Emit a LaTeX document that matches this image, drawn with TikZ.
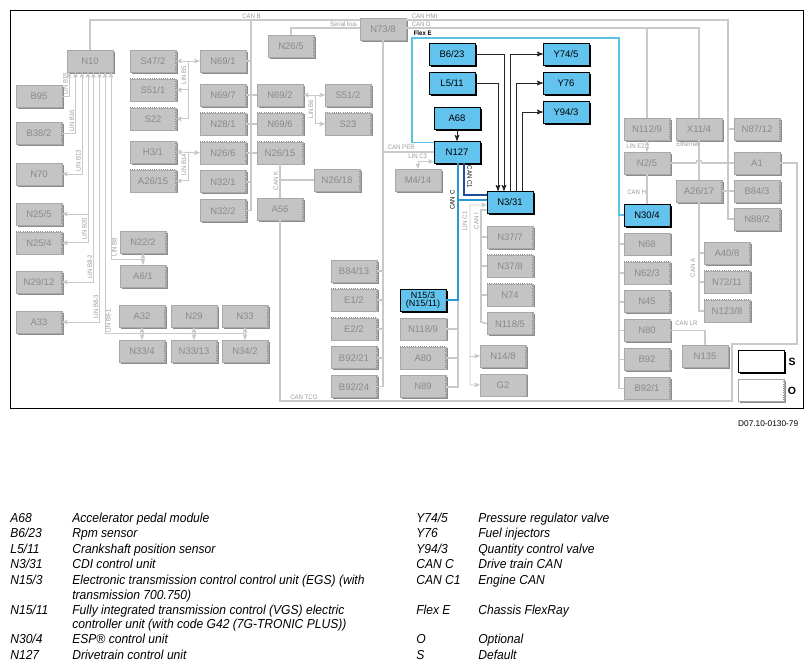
\documentclass[tikz,border=0pt]{standalone}
\usepackage{fontspec}
\setmainfont{Liberation Sans}
\newfontfamily\narrowfont[FakeStretch=0.93]{Liberation Sans}
\usetikzlibrary{arrows,positioning,shadows}

\definecolor{ecugray}{HTML}{C4C4C4}
\definecolor{ecuedge}{HTML}{A8A8A8}
\definecolor{ecutext}{HTML}{8A8A8A}
\definecolor{ecushade}{HTML}{8C8C8C}
\definecolor{ecublue}{HTML}{62C4EE}
\definecolor{busgray}{HTML}{C9C9C9}
\definecolor{tagtext}{HTML}{9A9A9A}
\definecolor{flexblue}{HTML}{5CC3E4}
\definecolor{cancblue}{HTML}{2B97D4}
\definecolor{canconeblue}{HTML}{1F4C9C}

\begin{document}
\begin{tikzpicture}[x=1pt,y=-1pt,>=stealth',node distance=6.3pt,semithick]
	\tikzstyle{ecu}=[rectangle,minimum width=46pt,minimum height=22pt,inner sep=0pt,font=\fontsize{9.5}{10}\selectfont]
	\tikzstyle{std}=[ecu,fill=ecugray,draw=ecuedge,text=ecutext,general shadow={fill=ecushade,shadow xshift=1.5pt,shadow yshift=-1.5pt}]
	\tikzstyle{dottop}=[path picture={\draw[ecushade,line width=1.4pt,dash pattern=on 1pt off 1.2pt] (path picture bounding box.north west) -- (path picture bounding box.north east) -- (path picture bounding box.south east);}]
	\tikzstyle{opt}=[std,dottop]
	\tikzstyle{sel}=[ecu,fill=ecublue,draw=black,text=black,general shadow={fill=black,shadow xshift=1.5pt,shadow yshift=-1.5pt}]
	\tikzstyle{can}=[draw=busgray,line width=1.6pt]
	\tikzstyle{lin}=[draw=busgray,line width=0.9pt]
	\tikzstyle{sig}=[->,draw=black!85,line width=1pt]
	\tikzstyle{flex}=[draw=flexblue,line width=1.6pt]
	\tikzstyle{canc}=[draw=cancblue,line width=1.6pt]
	\tikzstyle{canconeline}=[draw=canconeblue,line width=1.6pt]
	\tikzstyle{buslabel}=[font=\narrowfont\fontsize{6.5}{7}\selectfont,text=tagtext,inner sep=0.5pt]
	\tikzstyle{keytext}=[anchor=west,inner sep=0pt,font=\narrowfont\itshape\fontsize{13}{15}\selectfont,text height=1.6ex,text depth=0.45ex]

	\useasboundingbox (0,0) rectangle (812,670);
	\draw[line width=0.9pt] (10,10) rectangle (803,408);

	% left side, N10 and its LIN buses
	\node[std] (N10) at (90,61) {N10};
	\node[std] (B95) at (39,96) {B95};
	\node[opt] (B38-2) at (39,133) {B38/2};
	\node[std] (N70) at (39,174) {N70};
	\node[opt] (N25-5) at (39,214) {N25/5};
	\node[opt] (N25-4) [below=of N25-5] {N25/4};
	\node[opt] (N29-12) at (39,282) {N29/12};
	\node[opt] (A33) at (39,322) {A33};
	\node[opt] (N22-2) at (143,242) {N22/2};
	\node[opt] (A6-1) at (143,276) {A6/1};
	\node[opt] (A32) at (142,316) {A32};
	\node[std] (N29) at (194,316) {N29};
	\node[opt] (N33) at (245,316) {N33};
	\node[opt] (N33-4) at (142,351) {N33/4};
	\node[opt] (N33-13) at (194,351) {N33/13};
	\node[opt] (N34-2) at (245,351) {N34/2};

	% CAN B side
	\node[opt] (S47-2) at (153,61) {S47/2};
	\node[opt] (S51-1) [below=of S47-2] {S51/1};
	\node[opt] (S22) [below=of S51-1] {S22};
	\node[opt] (H3-1) at (153,152) {H3/1};
	\node[opt] (A26-15) [below=of H3-1] {A26/15};
	\node[std] (N69-1) at (223,61) {N69/1};
	\node[opt] (N69-7) at (223,95) {N69/7};
	\node[opt] (N28-1) [below=of N69-7] {N28/1};
	\node[opt] (N26-6) [below=of N28-1] {N26/6};
	\node[opt] (N32-1) [below=of N26-6] {N32/1};
	\node[opt] (N32-2) [below=of N32-1] {N32/2};
	\node[std] (N69-2) at (280,95) {N69/2};
	\node[opt] (N69-6) [below=of N69-2] {N69/6};
	\node[opt] (N26-15) [below=of N69-6] {N26/15};
	\node[opt] (A56) at (280,209) {A56};
	\node[opt] (S51-2) at (348,95) {S51/2};
	\node[opt] (S23) [below=of S51-2] {S23};
	\node[opt] (N26-18) at (337,180) {N26/18};
	\node[opt] (N26-5) at (291,46) {N26/5};
	\node[std] (N73-8) at (383,29) {N73/8};

	% middle
	\node[std] (M4-14) at (418,180) {M4/14};
	\node[opt] (B84-13) at (354,271) {B84/13};
	\node[opt] (E1-2) [below=of B84-13] {E1/2};
	\node[opt] (E2-2) [below=of E1-2] {E2/2};
	\node[opt] (B92-21) [below=of E2-2] {B92/21};
	\node[opt] (B92-24) [below=of B92-21] {B92/24};
	\node[sel,dottop,align=center,font=\fontsize{9}{8}\selectfont] (N15-3) at (423,300) {N15/3\\(N15/11)};
	\node[std] (N118-9) [below=of N15-3] {N118/9};
	\node[opt] (A80) [below=of N118-9] {A80};
	\node[opt] (N89) [below=of A80] {N89};

	\node[sel] (B6-23) at (452,54) {B6/23};
	\node[sel] (L5-11) at (452,83) {L5/11};
	\node[sel] (A68) at (457,118) {A68};
	\node[sel] (N127) at (457,152) {N127};
	\node[sel] (Y74-5) at (566,54) {Y74/5};
	\node[sel] (Y76) at (566,83) {Y76};
	\node[sel] (Y94-3) at (566,112) {Y94/3};
	\node[sel] (N3-31) at (510,202) {N3/31};
	\node[opt] (N37-7) at (510,237) {N37/7};
	\node[opt] (N37-8) [below=of N37-7] {N37/8};
	\node[opt] (N74) [below=of N37-8] {N74};
	\node[opt] (N118-5) [below=of N74] {N118/5};
	\node[opt] (N14-8) at (503,356) {N14/8};
	\node[std] (G2) [below=of N14-8] {G2};

	% right side
	\node[opt] (N112-9) at (647,129) {N112/9};
	\node[std] (N2-5) at (647,163) {N2/5};
	\node[sel,dottop] (N30-4) at (647,215) {N30/4};
	\node[std] (N68) [below=of N30-4] {N68};
	\node[opt] (N62-3) [below=of N68] {N62/3};
	\node[opt] (N45) [below=of N62-3] {N45};
	\node[std] (N80) [below=of N45] {N80};
	\node[opt] (B92) [below=of N80] {B92};
	\node[opt] (B92-1) [below=of B92] {B92/1};
	\node[std] (X11-4) at (699,129) {X11/4};
	\node[opt] (A26-17) at (699,191) {A26/17};
	\node[opt] (N87-12) at (757,129) {N87/12};
	\node[std] (A1) at (757,163) {A1};
	\node[opt] (B84-3) at (757,191) {B84/3};
	\node[opt] (N88-2) at (757,219) {N88/2};
	\node[opt] (A40-8) at (727,253) {A40/8};
	\node[opt] (N72-11) [below=of A40-8] {N72/11};
	\node[opt] (N123-8) [below=of N72-11] {N123/8};
	\node[std] (N135) at (705,356) {N135};

	% key boxes
	\node[ecu,fill=white,draw=black,line width=0.8pt,general shadow={fill=black,shadow xshift=2pt,shadow yshift=-2pt}] (keyS) at (761,361) {};
	\node[ecu,fill=white,draw=ecuedge,dottop,general shadow={fill=ecushade,shadow xshift=1.5pt,shadow yshift=-1.5pt}] (keyO) at (761,390) {};
	\node[font=\bfseries\fontsize{10.5}{11}\selectfont] (keyS-t) at (792,362) {S};
	\node[font=\bfseries\fontsize{10.5}{11}\selectfont] (keyO-t) at (792,391) {O};

	% bend points
	\coordinate (lb15) at ([xshift=-21pt]N10.south);
	\coordinate (lb16) at ([xshift=-14.5pt]N10.south);
	\coordinate (lb13) at ([xshift=-8pt]N10.south);
	\coordinate (lb20) at ([xshift=-2pt]N10.south);
	\coordinate (lb82) at ([xshift=3.5pt]N10.south);
	\coordinate (lb83) at ([xshift=9.5pt]N10.south);
	\coordinate (lb81) at ([xshift=15pt]N10.south);
	\coordinate (lb8) at ([xshift=21pt]N10.south);
	\coordinate (b8) at (143,259);
	\coordinate (b81) at (245,333.5);
	\coordinate (lb5) at (188,61);
	\coordinate (lb14) at (188,152);
	\coordinate (lb6) at (315,95);
	\coordinate (canB) at (251,20);
	\coordinate (canHMI) at (728,20);
	\coordinate (canD) at (647,28);
	\coordinate (flexL) at (412,38);
	\coordinate (flexR) at (619,38);
	\coordinate (tcoL) at (732,401);
	\coordinate (tcoR) at (797,344);
	\coordinate (cC) at ([xshift=1pt]N127.south);
	\coordinate (lc1) at (470,385);
	\coordinate (ci) at (481,322);
	\coordinate (hop) at (696,163);

	% LIN buses
	\draw[lin,<-] (lb15) |- (B95.east);
	\draw[lin,<-] (lb16) |- (B38-2.east);
	\draw[lin,<->] (lb13) |- (N70.east);
	\draw[lin,<->] (lb20) |- (N25-4.east);
	\draw[lin,->] (lb20 |- N25-5.east) -- (N25-5.east);
	\draw[lin,<->] (lb82) |- (N29-12.east);
	\draw[lin,<->] (lb83) |- (A33.east);
	\draw[lin,<-] (lb8) |- (b8);
	\draw[lin,<->] (N22-2.south) -- (A6-1.north);
	\draw[lin,<-] (lb81) |- (b81);
	\draw[lin,<->] (A32.south) -- (N33-4.north);
	\draw[lin,<->] (N29.south) -- (N33-13.north);
	\draw[lin,<->] (N33.south) -- (N34-2.north);
	\draw[lin,<->] (S47-2.east) -- (N69-1.west);
	\draw[lin,->] (lb5) |- (S22.east);
	\draw[lin,->] (lb5 |- S51-1.east) -- (S51-1.east);
	\draw[lin,<->] (H3-1.east) -- (N26-6.west);
	\draw[lin,->] (lb14) |- (A26-15.east);
	\draw[lin,<->] (N69-2.east) -- (S51-2.west);
	\draw[lin,->] (lb6) |- (S23.west);
	\draw[lin,<->] ([yshift=-9.5pt]N127.west) -| (M4-14.north);
	\draw[lin,<->] ([yshift=-3pt]N3-31.west) -| (lc1) -- (G2.west);
	\draw[lin,->] (lc1 |- N14-8.west) -- (N14-8.west);
	\draw[lin,<->] (N112-9.south) -- (N2-5.north);

	% CAN buses
	\draw[can] (N10.north) |- (N73-8.west |- canB);
	\draw[can] (canB) |- (N32-2.east);
	\draw[can] (N69-1.east) -- (canB |- N69-1.east);
	\draw[can] (N69-7.east) -- (N69-2.west);
	\draw[can] (N28-1.east) -- (N69-6.west);
	\draw[can] (N26-6.east) -- (N26-15.west);
	\draw[can] (N32-1.east) -- (canB |- N32-1.east);
	\draw[can] (N26-5.north) |- (N73-8.west |- canD);
	\draw[can] (N73-8.east |- canHMI) -- (canHMI) |- (N88-2.west);
	\draw[can] (canHMI |- N87-12.west) -- (N87-12.west);
	\draw[can] (N73-8.east |- canD) -| (X11-4.north);
	\draw[can] (canD) -- (N112-9.north);
	\draw[can] (N73-8.south) |- (B92-24.east);
	\draw[can] (N73-8.south |- B84-13.east) -- (B84-13.east);
	\draw[can] (N73-8.south |- E1-2.east) -- (E1-2.east);
	\draw[can] (N73-8.south |- E2-2.east) -- (E2-2.east);
	\draw[can] (N73-8.south |- B92-21.east) -- (B92-21.east);
	\draw[can] (N73-8.south |- N127.west) -- (N127.west);
	\draw[can] (N26-15.south) -- (A56.north);
	\draw[can] (N26-15.south |- N26-18.west) -- (N26-18.west);
	\draw[can] (A56.south) |- (tcoL) |- (tcoR) |- (A1.east);
	\draw[can] (N15-3.east -| cC) |- (N89.east);
	\draw[can] (N118-9.east) -- (N118-9.east -| cC);
	\draw[can] (A80.east) -- (A80.east -| cC);
	\draw[can] ([yshift=-8pt]N3-31.west) -| (ci) -- (N118-5.west);
	\draw[can] (ci |- N37-7.west) -- (N37-7.west);
	\draw[can] (ci |- N37-8.west) -- (N37-8.west);
	\draw[can] (ci |- N74.west) -- (N74.west);
	\draw[can] (N2-5.south) -- (N30-4.north);
	\draw[can] (N30-4.west) -- ++(-5,0) |- (B92-1.west);
	\draw[can] (N68.west) -- ++(-5,0);
	\draw[can] (N62-3.west) -- ++(-5,0);
	\draw[can] (N45.west) -- ++(-5,0);
	\draw[can] (N80.west) -- ++(-5,0);
	\draw[can] (B92.west) -- ++(-5,0);
	\draw[can] (X11-4.south) -- (A26-17.north);
	\draw[can] (N2-5.east) -- (hop) arc[start angle=180,end angle=360,radius=3] -- (A1.west);
	\draw[can] (A26-17.east) -- (B84-3.west);
	\draw[can] (A26-17.south) |- (N123-8.west);
	\draw[can] (A26-17.south |- A40-8.west) -- (A40-8.west);
	\draw[can] (A26-17.south |- N72-11.west) -- (N72-11.west);
	\draw[can] (N80.east) -| (N135.north);

	% drive train and chassis
	\draw[flex] ([yshift=9.5pt]N127.west) -| (flexL) -- (flexR) |- (N30-4.west);
	\draw[canc] (cC) |- (N15-3.east);
	\draw[canc] ([yshift=2pt]N3-31.west) -| (cC);
	\draw[canconeline] ([xshift=7pt]N127.south) |- ([yshift=7pt]N3-31.west);

	% sensors and actuators
	\draw[sig] (A68.south) -- (N127.north);
	\draw[sig] (B6-23.east) -| ([xshift=-6pt]N3-31.north);
	\draw[sig] (L5-11.east) -| ([xshift=-12pt]N3-31.north);
	\draw[sig] (N3-31.north) |- (Y74-5.west);
	\draw[sig] ([xshift=6pt]N3-31.north) |- (Y76.west);
	\draw[sig] ([xshift=12pt]N3-31.north) |- (Y94-3.west);

	% bus names
	\node[buslabel,rotate=90] (tLB15) at (65.5,84) {LIN B15};
	\node[buslabel,rotate=90] (tLB16) at (72,121) {LIN B16};
	\node[buslabel,rotate=90] (tLB13) at (78.5,161) {LIN B13};
	\node[buslabel,rotate=90] (tLB20) at (84.5,229) {LIN B20};
	\node[buslabel,rotate=90] (tLB82) at (90,267) {LIN B8-2};
	\node[buslabel,rotate=90] (tLB83) at (96,307) {LIN B8-3};
	\node[buslabel,rotate=90] (tLB81) at (108.5,321) {LIN B8-1};
	\node[buslabel,rotate=90] (tLB8) at (114.5,247) {LIN B8};
	\node[buslabel,rotate=90] (tLB5) at (184,75) {LIN B5};
	\node[buslabel,rotate=90] (tLB14) at (184,165) {LIN B14};
	\node[buslabel,rotate=90] (tLB6) at (311,109) {LIN B6};
	\node[buslabel,rotate=90] (tCANK) at (276,181) {CAN K};
	\node[buslabel,rotate=90] (tCANA) at (693,268) {CAN A};
	\node[buslabel,rotate=90] (tLC1) at (465,221) {LIN C1};
	\node[buslabel,rotate=90] (tCANI) at (476.5,221) {CAN I};
	\node[buslabel,rotate=90,text=black] (tCANC) at (452.5,200) {CAN C};
	\node[buslabel,rotate=-90,text=black] (tCANC1) at (469.5,177) {CAN C1};
	\node[buslabel] (tCANB) at (251.5,16) {CAN B};
	\node[buslabel] (tSER) at (343.5,24.5) {Serial bus};
	\node[buslabel,anchor=west] (tHMI) at (411,16) {CAN HMI};
	\node[buslabel,anchor=west] (tCAND) at (411,24.5) {CAN D};
	\node[buslabel,anchor=west,text=black,font=\narrowfont\bfseries\fontsize{6.5}{7}\selectfont] (tFLEX) at (413,33) {Flex E};
	\node[buslabel,anchor=west] (tPER) at (387,147.5) {CAN PER};
	\node[buslabel,anchor=west] (tLC3) at (407.5,156.5) {LIN C3};
	\node[buslabel,anchor=west] (tLE2) at (625.5,146) {LIN E2};
	\node[buslabel,anchor=west] (tETH) at (675.5,144) {Ethernet};
	\node[buslabel,anchor=west] (tCANH) at (626.5,192) {CAN H};
	\node[buslabel,anchor=west] (tCANLR) at (674.5,323) {CAN LR};
	\node[buslabel,anchor=west] (tTCO) at (289.5,397) {CAN TCO};

	\node[anchor=east,inner sep=0pt,font=\fontsize{8.3}{9}\selectfont] (docid) at (798.5,424) {D07.10-0130-79};

	% legend
	\node[keytext] (kA68) at (10,519) {A68};
	\node[keytext] (dA68) at (72,519) {Accelerator pedal module};
	\node[keytext] (kB623) at (10,534) {B6/23};
	\node[keytext] (dB623) at (72,534) {Rpm sensor};
	\node[keytext] (kL511) at (10,550) {L5/11};
	\node[keytext] (dL511) at (72,550) {Crankshaft position sensor};
	\node[keytext] (kN331) at (10,565) {N3/31};
	\node[keytext] (dN331) at (72,565) {CDI control unit};
	\node[keytext] (kN153) at (10,581) {N15/3};
	\node[keytext] (dN153) at (72,581) {Electronic transmission control control unit (EGS) (with};
	\node[keytext] (dN153b) at (72,596) {transmission 700.750)};
	\node[keytext] (kN1511) at (10,611) {N15/11};
	\node[keytext] (dN1511) at (72,611) {Fully integrated transmission control (VGS) electric};
	\node[keytext] (dN1511b) at (72,625) {controller unit (with code G42 (7G-TRONIC PLUS))};
	\node[keytext] (kN304) at (10,640) {N30/4};
	\node[keytext] (dN304) at (72,640) {ESP® control unit};
	\node[keytext] (kN127) at (10,656) {N127};
	\node[keytext] (dN127) at (72,656) {Drivetrain control unit};

	\node[keytext] (kY745) at (416,519) {Y74/5};
	\node[keytext] (dY745) at (478,519) {Pressure regulator valve};
	\node[keytext] (kY76) at (416,534) {Y76};
	\node[keytext] (dY76) at (478,534) {Fuel injectors};
	\node[keytext] (kY943) at (416,550) {Y94/3};
	\node[keytext] (dY943) at (478,550) {Quantity control valve};
	\node[keytext] (kCANC) at (416,565) {CAN C};
	\node[keytext] (dCANC) at (478,565) {Drive train CAN};
	\node[keytext] (kCANC1) at (416,581) {CAN C1};
	\node[keytext] (dCANC1) at (478,581) {Engine CAN};
	\node[keytext] (kFLEX) at (416,611) {Flex E};
	\node[keytext] (dFLEX) at (478,611) {Chassis FlexRay};
	\node[keytext] (kO) at (416,640) {O};
	\node[keytext] (dO) at (478,640) {Optional};
	\node[keytext] (kS) at (416,656) {S};
	\node[keytext] (dS) at (478,656) {Default};
\end{tikzpicture}
\end{document}
